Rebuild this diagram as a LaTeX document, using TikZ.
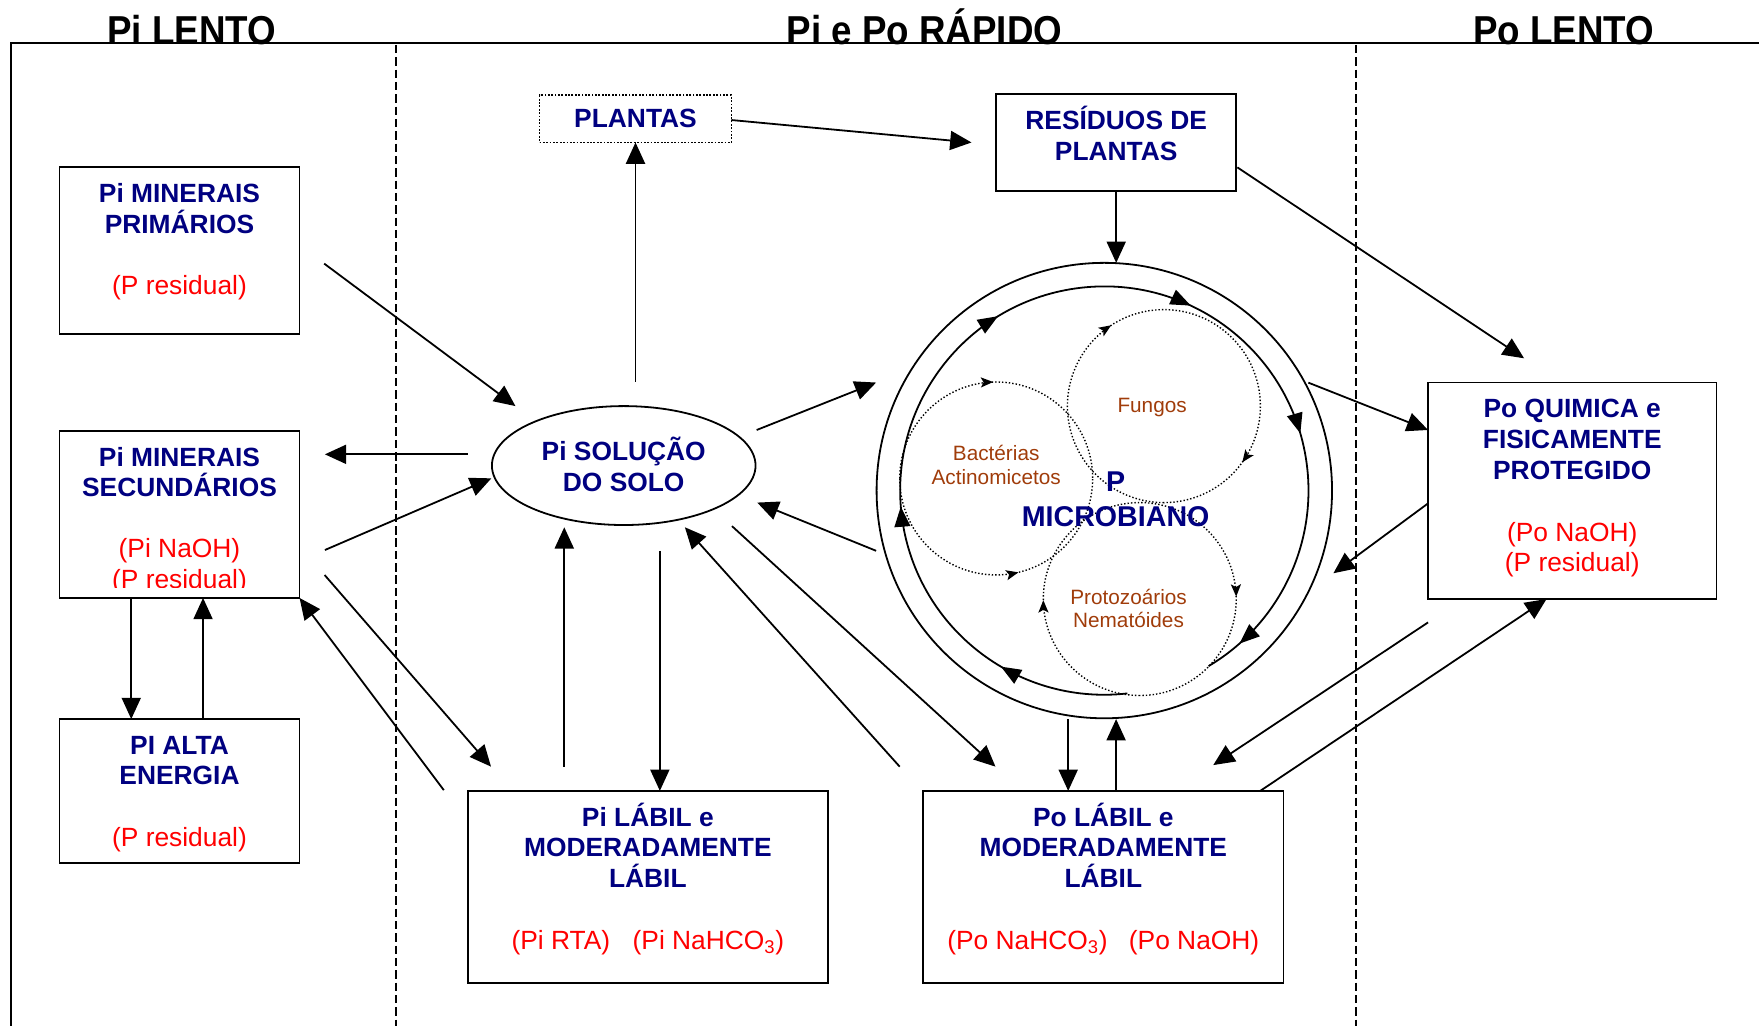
\documentclass[tikz,border=0pt]{standalone}
\usepackage{fontspec}
\setmainfont{Liberation Sans}
\newfontfamily\titlefont[FakeStretch=0.91]{Liberation Sans}
\usetikzlibrary{arrows.meta,shapes.geometric,decorations.markings,calc}
\definecolor{navyt}{RGB}{0,0,128}
\definecolor{brownt}{RGB}{160,60,10}
\newcommand\mystrut{\rule{0pt}{24pt}}
\newcommand\smstrut{\rule{0pt}{18pt}}
\newcommand\redt[1]{{\mdseries\color{red}#1}}
\tikzset{
  contip/.tip={Triangle[length=19pt,width=17pt]},
  bigtip/.tip={Triangle[length=18pt,width=14pt]},
  smalltip/.tip={Stealth[length=11pt,width=9pt,inset=2.5pt]}
}
\begin{document}
\begin{tikzpicture}[x=1pt,y=-1pt,
  every node/.style={outer sep=0pt},
  arr/.style={line width=1.6pt,-{contip}},
  bx/.style={draw,line width=1.5pt,inner sep=0pt},
  txt/.style={anchor=north,inner sep=0pt,align=center,text=navyt,
    font=\fontsize{23.5}{27.3}\selectfont\bfseries},
  mtxt/.style={anchor=north,inner sep=0pt,align=center,text=brownt,
    font=\fontsize{18.5}{21}\selectfont},
  ttl/.style={anchor=base,inner sep=0pt,font=\titlefont\bfseries\fontsize{36}{36}\selectfont},
  dots/.style={line width=1.25pt,dash pattern=on 1.25pt off 1.8pt},
  sep/.style={line width=1.5pt,dash pattern=on 7.5pt off 3.5pt}
]
\useasboundingbox (0,0) rectangle (1568,915);

% frame and separators
\draw[line width=2pt] (1568,38) -- (10,38) -- (10,915);
\draw[sep] (353,40) -- (353,915);
\draw[sep] (1209,40) -- (1209,915);

% titles
\node[ttl] (t1) at (171,40) {Pi LENTO};
\node[ttl] (t2) at (824,40) {Pi e Po RÁPIDO};
\node[ttl] (t3) at (1394,40) {Po LENTO};

% boxes
\node[bx,minimum width=214pt,minimum height=149pt] (prim) at (160,223.5) {};
\node[txt] (primtxt) at (160,156.4) {\mystrut Pi MINERAIS\\PRIMÁRIOS\\[27.3pt]\redt{(P residual)}};

\node[bx,minimum width=214pt,minimum height=149pt] (sec) at (160,458.5) {};
\begin{scope}
\clip (53,384) rectangle (267,524);
\node[txt] (sectxt) at (160,391.4) {\mystrut Pi MINERAIS\\SECUNDÁRIOS\\[27.3pt]\redt{(Pi NaOH)}\\\redt{(P residual)}};
\end{scope}

\node[bx,minimum width=214pt,minimum height=128pt] (alta) at (160,705) {};
\node[txt] (altatxt) at (160,648.4) {\mystrut PI ALTA\\ENERGIA\\[27.3pt]\redt{(P residual)}};

\node[draw,line width=1.6pt,dash pattern=on 1.6pt off 1.4pt,minimum width=171pt,minimum height=42pt,
  inner sep=0pt,text=navyt,font=\fontsize{23.5}{27.3}\selectfont\bfseries] (plantas) at (566.5,106) {PLANTAS};

\node[bx,minimum width=214pt,minimum height=86pt] (res) at (995,127) {};
\node[txt] (restxt) at (995,91.4) {\mystrut RESÍDUOS DE\\PLANTAS};

\node[bx,minimum width=257pt,minimum height=193pt] (poq) at (1401.5,437.5) {};
\node[txt] (poqtxt) at (1401.5,348.4) {\mystrut Po QUIMICA e\\FISICAMENTE\\PROTEGIDO\\[28pt]\redt{(Po NaOH)}\\\redt{(P residual)}};

\node[bx,minimum width=321pt,minimum height=171pt] (pilab) at (577.5,790.5) {};
\node[txt] (pilabtxt) at (577.5,712.4) {\mystrut Pi LÁBIL e\\MODERADAMENTE\\LÁBIL\\[28pt]\redt{(Pi RTA)\hspace{20pt}(Pi NaHCO\textsubscript{3})}};

\node[bx,minimum width=321pt,minimum height=171pt] (polab) at (983.5,790.5) {};
\node[txt] (polabtxt) at (983.5,712.4) {\mystrut Po LÁBIL e\\MODERADAMENTE\\LÁBIL\\[28pt]\redt{(Po NaHCO\textsubscript{3})\hspace{19pt}(Po NaOH)}};

% ellipse
\node[ellipse,draw,line width=1.6pt,minimum width=235pt,minimum height=106pt,inner sep=0pt] (sol) at (556,415) {};
\node[txt] (soltxt) at (556,386.4) {\mystrut Pi SOLUÇÃO\\DO SOLO};

% microbial circle
\node[circle,draw,line width=1.6pt,minimum size=406pt,inner sep=0pt] (mic) at (984.4,437.3) {};
\draw[line width=1.6pt,postaction={decorate},decoration={markings,
  mark=at position 0.11 with {\arrow{bigtip}},
  mark=at position 0.274 with {\arrow{bigtip}},
  mark=at position 0.462 with {\arrow{bigtip}},
  mark=at position 0.63 with {\arrow{bigtip}},
  mark=at position 0.775 with {\arrow{bigtip}},
  mark=at position 0.968 with {\arrow{bigtip}}}]
  ($(mic.center)+(83.5:182)$) arc[start angle=83.5,end angle=419.3,radius=182];

\coordinate (bc) at (888,426.5);
\coordinate (fc) at (1037.5,362);
\coordinate (pc) at (1016,534);
\draw[dots,postaction={decorate},decoration={markings,mark=at position 0.49 with {\arrow{smalltip}}}]
  ($(bc)+(180:86)$) arc[start angle=180,end angle=360,radius=86];
\draw[dots,postaction={decorate},decoration={markings,mark=at position 0.574 with {\arrow{smalltip}}}]
  ($(bc)+(180:86)$) arc[start angle=180,end angle=0,radius=86];
\draw[dots,postaction={decorate},decoration={markings,
  mark=at position 0.408 with {\arrow{smalltip}},
  mark=at position 0.849 with {\arrow{smalltip}}}]
  ($(fc)+(90:86)$) arc[start angle=90,end angle=450,radius=86];
\draw[dots,postaction={decorate},decoration={markings,
  mark=at position 0.248 with {\arrow{smalltip}},
  mark=at position 0.746 with {\arrow{smalltip}}}]
  ($(pc)+(90:86)$) arc[start angle=90,end angle=450,radius=86];

\node[mtxt] (fung) at (1027,349.6) {\smstrut Fungos};
\node[mtxt] (bact) at (888,392.6) {\smstrut Bactérias\\Actinomicetos};
\node[mtxt] (prot) at (1006,520.6) {\smstrut Protozoários\\Nematóides};
\node[anchor=north,inner sep=0pt,align=center,text=navyt,font=\fontsize{25.5}{31}\selectfont\bfseries]
  (mictxt) at (994.5,414.1) {\mystrut P\\MICROBIANO};

% connectors
\draw[arr] ($(prim.east)+(22,11.5)$) -- ($(sol.center)+(-96.5,-53)$);
\draw[arr] ($(sol.center)+(-139.2,-10)$) -- ($(sec.east)+(22.6,-53.5)$);
\draw[arr] ($(sec.east)+(22.6,31.8)$) -- ($(sol.center)+(-118,11.4)$);
\draw[arr] ($(sec.east)+(22.4,54.1)$) -- ($(pilab.north west)+(20.7,-21.6)$);
\draw[arr] ($(pilab.north west)+(-21.4,-0.7)$) -- (sec.south east);
\draw[arr] ($(sec.south)+(-43,0)$) -- ($(alta.north)+(-43,0)$);
\draw[arr] ($(alta.north)+(21,0)$) -- ($(sec.south)+(21,0)$);
\draw[arr] ($(sol.north)+(10.5,-21.8)$) -- (plantas.south);
\draw[arr] ($(plantas.east)+(0,1)$) -- ($(res.west)+(-22,0)$);
\draw[arr] (res.south) -- (res.south |- mic.north);
\draw[arr] ($(res.east)+(1,22.2)$) -- ($(poq.north west)+(85.6,-21.6)$);
\draw[arr] ($(sol.center)+(118.5,-31.7)$) -- ($(mic.center)+(-203.4,-96.3)$);
\draw[arr] ($(mic.center)+(-203.4,53.7)$) -- ($(sol.center)+(119,33)$);
\draw[arr] ($(pilab.north west)+(86,-21.6)$) -- ($(sol.center)+(-53,55)$);
\draw[arr] ($(sol.center)+(32.2,76)$) -- ($(pilab.north)+(10.7,0)$);
\draw[arr] ($(polab.north west)+(-21,-21.6)$) -- ($(sol.center)+(54.5,55)$);
\draw[arr] ($(sol.center)+(96.5,54)$) -- ($(polab.north west)+(64.4,-21.6)$);
\draw[arr] ($(polab.north)+(-31.3,-63.7)$) -- ($(polab.north)+(-31.3,0)$);
\draw[arr] ($(polab.north)+(11.4,0)$) -- ($(polab.north)+(11.4,-64)$);
\draw[arr] ($(mic.center)+(181.9,-96.2)$) -- ($(poq.west)+(0,-54.2)$);
\draw[arr] ($(poq.west)+(0,11.2)$) -- ($(mic.center)+(204.2,73.7)$);
\draw[arr] ($(poq.south west)+(0,20.8)$) -- ($(polab.north)+(98,-23)$);
\draw[arr] ($(polab.north east)+(-20.6,0)$) -- ($(poq.south west)+(105.6,0)$);
\end{tikzpicture}
\end{document}
